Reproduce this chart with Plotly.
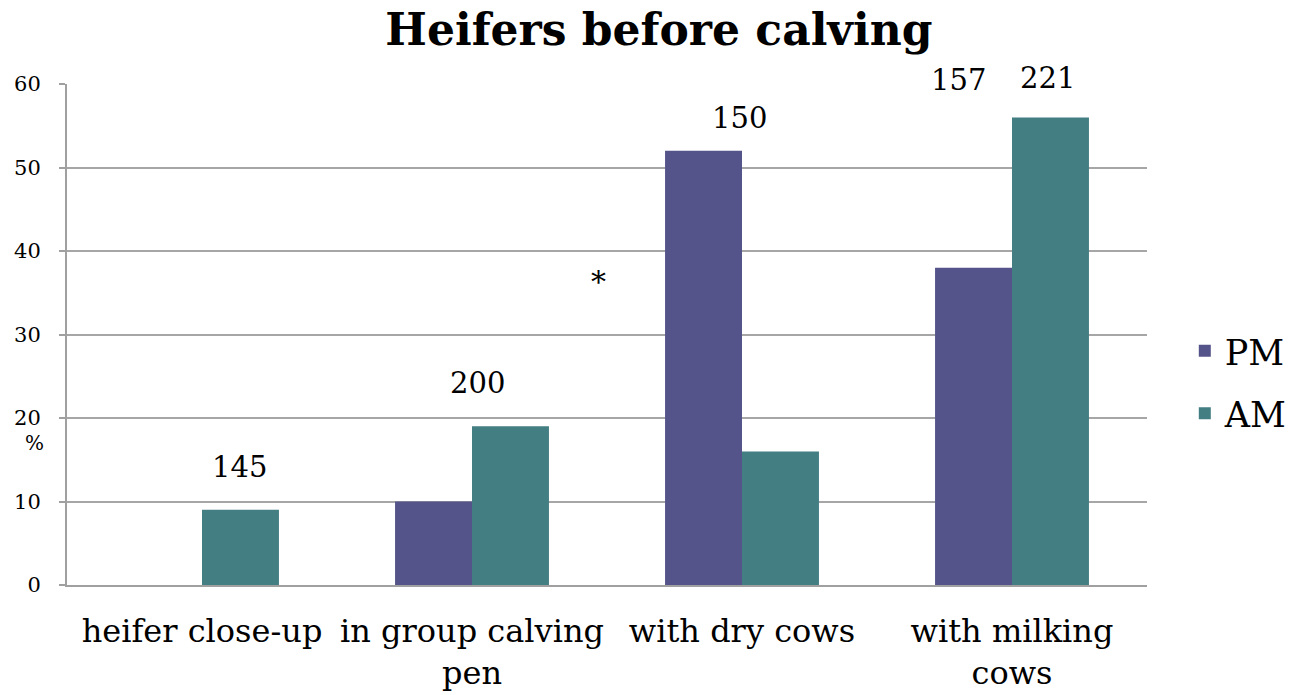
import plotly.graph_objects as go

# Housing categories and share of heifers (%) by time of calving
categories = ["heifer close-up", "in group calving<br>pen", "with dry cows", "with milking<br>cows"]
pm_values = [None, 10, 52, 38]
am_values = [9, 19, 16, 56]

# Count labels shown above the bars: (x position in category units, y value, text)
count_labels = [(0.14, 14.1, "145"), (1.02, 24.2, "200"), (1.99, 55.9, "150"),
                (2.80, 60.5, "157"), (3.13, 60.7, "221")]
y_max = 60
y_ticks = [0, 10, 20, 30, 40, 50, 60]

serif = "DejaVu Serif, Georgia, serif"
pm_color = "#54548A"
am_color = "#437E83"

fig = go.Figure()
fig.add_trace(go.Bar(name="PM", x=list(range(4)), y=pm_values, marker_color=pm_color,
                     marker_line_width=0, legendgroup="pm"))
fig.add_trace(go.Bar(name="AM", x=list(range(4)), y=am_values, marker_color=am_color,
                     marker_line_width=0, legendgroup="am"))

for x, y, t in count_labels:
    fig.add_annotation(x=x, y=y / y_max, xref="x", yref="paper", text=t, showarrow=False,
                       xanchor="center", yanchor="middle",
                       font=dict(family=serif, size=29, color="black"))

# significance marker
fig.add_annotation(x=1.47, y=36.3 / y_max, xref="x", yref="paper", text="*", showarrow=False,
                   xanchor="center", yanchor="middle",
                   font=dict(family=serif, size=30, color="black"))
# y-axis unit
fig.add_annotation(x=-0.03, y=17.0 / y_max, xref="paper", yref="paper", text="%",
                   xanchor="center", yanchor="middle",
                   showarrow=False, font=dict(family=serif, size=20, color="black"))

fig.update_layout(
    width=1297, height=695,
    margin=dict(l=67, r=150, t=84, b=110, autoexpand=False),
    paper_bgcolor="white", plot_bgcolor="white",
    title=dict(text="<b>Heifers before calving</b>", x=0.508, xanchor="center",
               y=0.957, yanchor="middle",
               font=dict(family=serif, size=44, color="black")),
    barmode="group", bargap=0.43, bargroupgap=0,
    showlegend=True,
    legend=dict(x=1.035, y=0.405, xanchor="left", yanchor="middle",
                font=dict(family=serif, size=35, color="black"),
                itemwidth=30, tracegroupgap=14),
    xaxis=dict(tickmode="array", tickvals=list(range(4)), ticktext=categories,
               range=[-0.5, 3.5], showgrid=False, showline=True, automargin=False,
               linecolor="#A0A0A0", linewidth=2, ticks="", ticklabelstandoff=17,
               tickfont=dict(family=serif, size=32, color="black")),
    yaxis=dict(range=[0, y_max], tickvals=y_ticks, showgrid=True, gridcolor="#A6A6A6",
               gridwidth=2, showline=True, linecolor="#A0A0A0", linewidth=2,
               ticks="outside", ticklen=6, tickcolor="#A0A0A0", tickwidth=2,
               zeroline=False, ticklabelstandoff=14, automargin=False,
               tickfont=dict(family=serif, size=21, color="black")),
)

fig.write_html("out.html")
